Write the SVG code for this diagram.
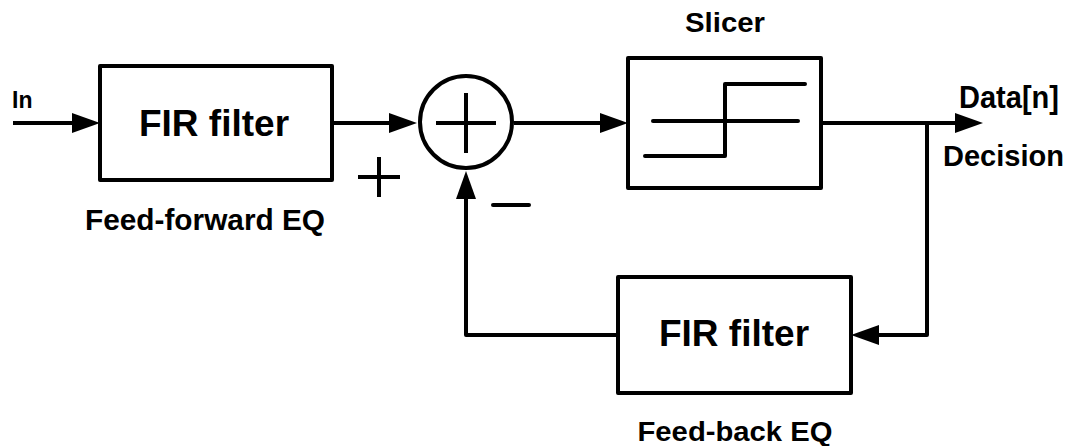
<svg xmlns="http://www.w3.org/2000/svg" width="1073" height="446" viewBox="0 0 1073 446">
  <style>
    .box { fill: #fff; stroke: #000; stroke-width: 4; stroke-linejoin: round; }
    .wire { fill: none; stroke: #000; stroke-width: 4; stroke-linejoin: round; }
    .lbl { font-family: "Liberation Sans", Arial, sans-serif; font-weight: bold; fill: #000; }
  </style>
  <defs>
    <marker id="arr" markerUnits="userSpaceOnUse" markerWidth="30" markerHeight="22" refX="22" refY="10" orient="auto">
      <path d="M0,0 L28,10 L0,20 z" fill="#000"/>
    </marker>
  </defs>

  <g id="connectors">
    <line class="wire" x1="13" y1="123" x2="94" y2="123" marker-end="url(#arr)"/>
    <line class="wire" x1="332" y1="123" x2="411" y2="123" marker-end="url(#arr)"/>
    <line class="wire" x1="514" y1="123" x2="622" y2="123" marker-end="url(#arr)"/>
    <line class="wire" x1="821" y1="123" x2="977" y2="123" marker-end="url(#arr)"/>
    <polyline class="wire" points="927,123 927,335 857,335" marker-end="url(#arr)"/>
    <polyline class="wire" points="618,335 466,335 466,177" marker-end="url(#arr)"/>
  </g>

  <g id="label-in">
    <text class="lbl" x="12" y="108" font-size="23">In</text>
  </g>

  <g id="ffe">
    <rect class="box" x="100" y="66" width="232" height="114"/>
    <text class="lbl" x="214" y="136" font-size="37" text-anchor="middle">FIR filter</text>
    <text class="lbl" x="205" y="230" font-size="30" text-anchor="middle" textLength="240" lengthAdjust="spacingAndGlyphs">Feed-forward EQ</text>
  </g>

  <g id="summer">
    <circle class="box" cx="466" cy="122" r="46"/>
    <line class="wire" x1="436" y1="123" x2="496" y2="123"/>
    <line class="wire" x1="466" y1="93" x2="466" y2="153"/>
    <line class="wire" x1="358" y1="177" x2="400" y2="177"/>
    <line class="wire" x1="379" y1="157" x2="379" y2="197"/>
    <line class="wire" x1="493" y1="205" x2="529" y2="205" stroke-linecap="round"/>
  </g>

  <g id="slicer">
    <rect class="box" x="628" y="58" width="193" height="130"/>
    <polyline class="wire" points="645,156 725,156 725,84 805,84" stroke-linecap="round"/>
    <line class="wire" x1="653" y1="121" x2="798" y2="121" stroke-linecap="round"/>
    <text class="lbl" x="725" y="32" font-size="27" text-anchor="middle" textLength="80" lengthAdjust="spacingAndGlyphs">Slicer</text>
  </g>

  <g id="output">
    <text class="lbl" x="959" y="108" font-size="32" textLength="100" lengthAdjust="spacingAndGlyphs">Data[n]</text>
    <text class="lbl" x="943" y="166" font-size="29" textLength="121" lengthAdjust="spacingAndGlyphs">Decision</text>
  </g>

  <g id="fbe">
    <rect class="box" x="618" y="277" width="233" height="116"/>
    <text class="lbl" x="734" y="346" font-size="37" text-anchor="middle">FIR filter</text>
    <text class="lbl" x="735" y="441" font-size="28" text-anchor="middle" textLength="195" lengthAdjust="spacingAndGlyphs">Feed-back EQ</text>
  </g>
</svg>
